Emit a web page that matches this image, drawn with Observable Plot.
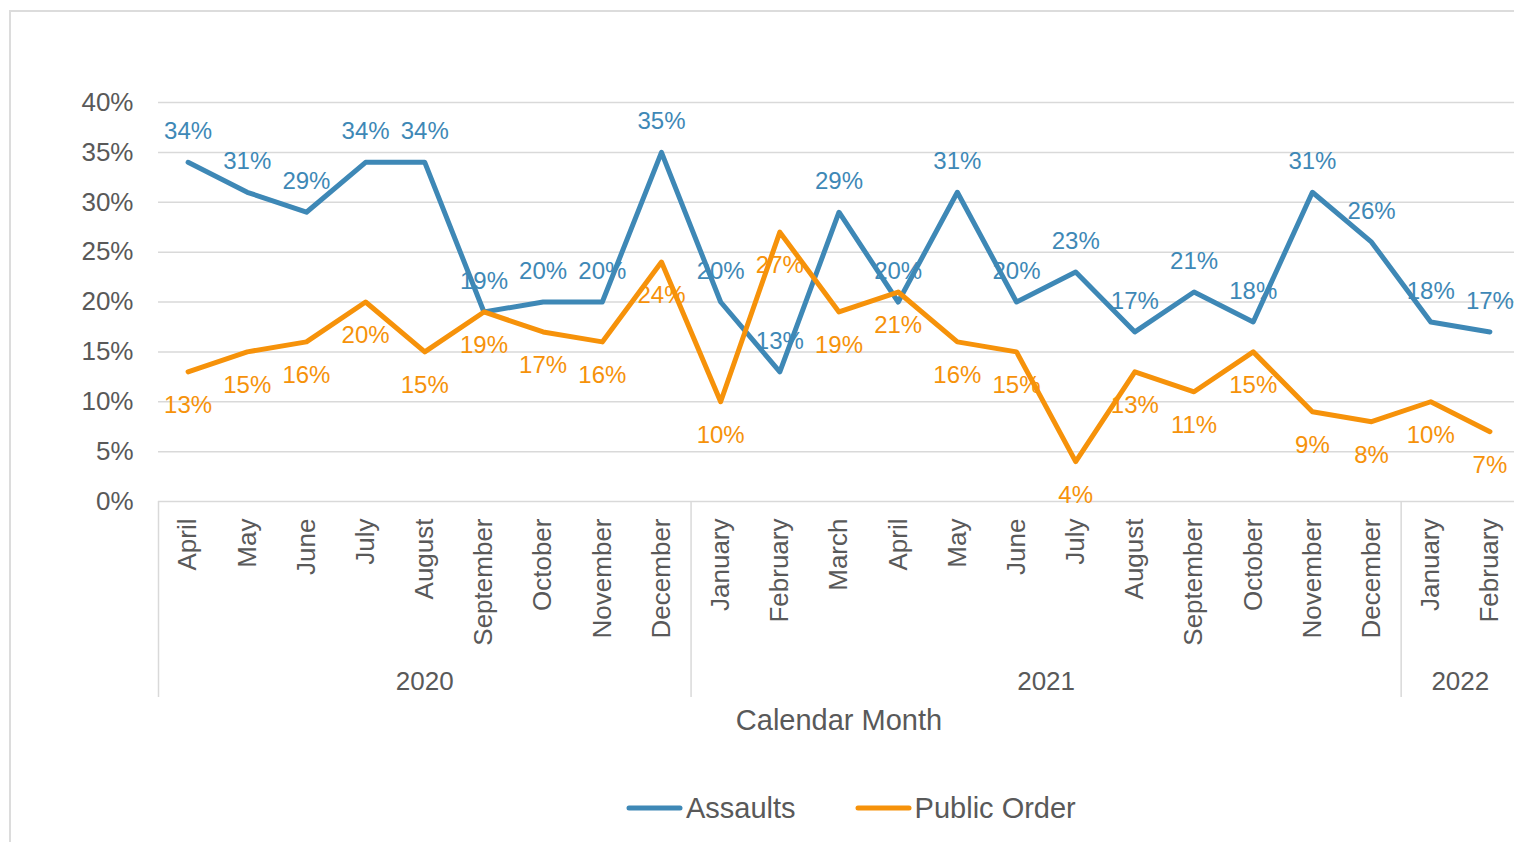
<!DOCTYPE html>
<html><head><meta charset="utf-8">
<script src="https://cdn.jsdelivr.net/npm/d3@7"></script>
<script src="https://cdn.jsdelivr.net/npm/@observablehq/plot@0.6"></script>
<style>
html,body{margin:0;padding:0;background:#fff;overflow:hidden;}
body{width:1514px;height:842px;position:relative;font-family:"Liberation Sans",Arial,sans-serif;}
#frame{position:absolute;left:9px;top:10px;width:1700px;height:950px;border:2px solid #dcdcdc;box-sizing:border-box;}
#chart{position:absolute;left:0;top:0;}
#legend{position:absolute;left:626px;top:790px;height:36px;display:flex;align-items:center;font-size:29px;color:#595959;white-space:nowrap;}
</style></head>
<body>
<div id="frame"></div>
<div id="chart"></div>
<div id="legend"></div>
<script>
// ---- data ----
const months = ["April","May","June","July","August","September","October","November","December",
  "January","February","March","April","May","June","July","August","September","October","November","December",
  "January","February"];
const years = ["2020","2021","2022"];
const yearMonthCounts = [9, 12, 2];
const assaults =    [34,31,29,34,34,19,20,20,35,20,13,29,20,31,20,23,17,21,18,31,26,18,17];
const publicOrder = [13,15,16,20,15,19,17,16,24,10,27,19,21,16,15, 4,13,11,15, 9, 8,10, 7];
const seriesNames = ["Assaults","Public Order"];
const seriesColors = ["#3E88B6","#F6920A"];
const yTicks = [0,5,10,15,20,25,30,35,40];
const axisTitle = "Calendar Month";

// ---- derived tables ----
const rows = months.map((m, i) => ({x: i + 0.5, month: m, a: assaults[i], p: publicOrder[i]}));
let acc = 0;
const groups = years.map((y, k) => { const start = acc; acc += yearMonthCounts[k]; return {year: y, start, end: acc, mid: (start + acc) / 2}; });
const groupEdges = groups.map(g => g.start);

const W = 1514, H = 760, plotTop = 102, plotBottom = 501;
const grey = "#d9d9d9", textCol = "#595959";

const chart = Plot.plot({
  width: W, height: H,
  marginLeft: 158, marginRight: 0, marginTop: plotTop, marginBottom: H - plotBottom,
  style: {fontFamily: '"Liberation Sans", Arial, sans-serif', color: textCol, background: "transparent", overflow: "visible"},
  x: {type: "linear", domain: [0, months.length], range: [158, 1519]},
  y: {domain: [0, 40]},
  marks: [
    Plot.gridY(yTicks, {stroke: grey, strokeOpacity: 1, strokeWidth: 1.5}),
    Plot.axisY(yTicks, {tickSize: 0, tickPadding: 25, tickFormat: d => d + "%", fontSize: 26, fill: textCol, label: null}),
    Plot.axisX(rows.map(d => d.x), {tickSize: 0, tickPadding: 17, tickRotate: -90, tickFormat: d => months[Math.floor(d)], fontSize: 26, fill: textCol, label: null}),
    Plot.axisX(groupEdges, {tickSize: 196, tickFormat: () => "", stroke: grey, strokeWidth: 1.5, label: null}),
    Plot.text(groups, {x: "mid", frameAnchor: "bottom", text: "year", dy: 188, lineAnchor: "bottom", fontSize: 26, fill: textCol}),
    Plot.text([axisTitle], {x: months.length / 2, frameAnchor: "bottom", text: d => d, dy: 228, lineAnchor: "bottom", fontSize: 29, fill: textCol}),
    Plot.line(rows, {x: "x", y: "a", stroke: seriesColors[0], strokeWidth: 5, strokeLinecap: "round", strokeLinejoin: "round"}),
    Plot.line(rows, {x: "x", y: "p", stroke: seriesColors[1], strokeWidth: 5, strokeLinecap: "round", strokeLinejoin: "round"}),
    Plot.text(rows, {x: "x", y: "a", text: d => d.a + "%", dy: -23, lineAnchor: "bottom", fontSize: 24, fill: seriesColors[0]}),
    Plot.text(rows, {x: "x", y: "p", text: d => d.p + "%", dy: 41, lineAnchor: "bottom", fontSize: 24, fill: seriesColors[1]})
  ]
});
document.getElementById("chart").appendChild(chart);

// ---- legend ----
const legend = d3.select("#legend");
seriesNames.forEach((name, k) => {
  const item = legend.append("div").style("display", "flex").style("align-items", "center")
    .style("margin-right", k < seriesNames.length - 1 ? "59px" : "0");
  item.append("svg").attr("width", 57).attr("height", 10)
    .append("line").attr("x1", 3).attr("x2", 54).attr("y1", 5).attr("y2", 5)
    .attr("stroke", seriesColors[k]).attr("stroke-width", 5).attr("stroke-linecap", "round");
  item.append("span").text(name).style("margin-left", "3px");
});
</script>
</body></html>
